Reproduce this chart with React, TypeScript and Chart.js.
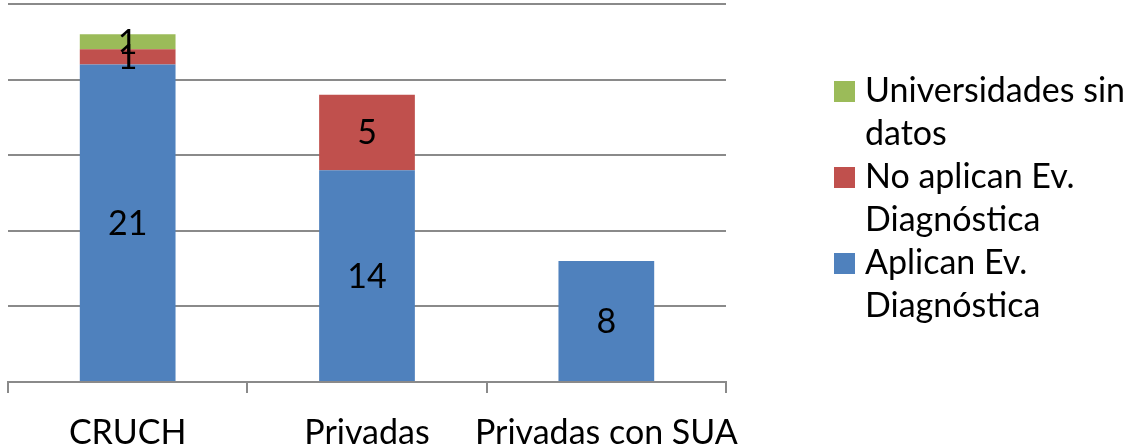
import React, { useEffect, useRef } from "react";
import { Chart, registerables } from "chart.js";

Chart.register(...registerables);

const categories = ["CRUCH", "Privadas", "Privadas con SUA"];
const aplican = [21, 14, 8];
const noAplican = [1, 5, 0];
const sinDatos = [1, 0, 0];
const seriesNames = ["Aplican Ev. Diagnóstica", "No aplican Ev. Diagnóstica", "Universidades sin datos"];
const legendLines = [
  ["Aplican Ev.", "Diagnóstica"],
  ["No aplican Ev.", "Diagnóstica"],
  ["Universidades sin", "datos"],
];
const seriesColors = ["#4F81BD", "#C0504D", "#9BBB59"];
const yMin = 0;
const yMax = 25;
const yStep = 5;

const FONT = "Lato, 'Open Sans', sans-serif";
const FS = 34;
const GRID = "#8a8a8a";

const valueLabels = {
  id: "valueLabels",
  afterDatasetsDraw(chart: any) {
    const ctx = chart.ctx;
    ctx.save();
    ctx.font = `${FS}px ${FONT}`;
    ctx.fillStyle = "#000";
    ctx.textAlign = "center";
    ctx.textBaseline = "middle";
    chart.data.datasets.forEach((ds: any, i: number) => {
      const meta = chart.getDatasetMeta(i);
      meta.data.forEach((el: any, j: number) => {
        const v = ds.data[j];
        if (!v) return;
        const p = el.getProps(["x", "y", "base"], true);
        ctx.fillText(String(v), p.x, (p.y + p.base) / 2 + 1);
      });
    });
    ctx.restore();
  },
};

const sideLegend = {
  id: "sideLegend",
  afterDraw(chart: any) {
    const ctx = chart.ctx;
    const ds = chart.data.datasets;
    ctx.save();
    ctx.font = `${FS}px ${FONT}`;
    ctx.textAlign = "left";
    ctx.textBaseline = "alphabetic";
    const lineH = 43;
    let y = 102;
    for (let k = ds.length - 1; k >= 0; k--) {
      ctx.fillStyle = ds[k].backgroundColor;
      ctx.fillRect(834, y - 21, 21, 21);
      ctx.fillStyle = "#000";
      const lines = legendLines[k];
      lines.forEach((ln, li) => ctx.fillText(ln, 865, y + li * lineH));
      y += lines.length * lineH;
    }
    ctx.restore();
  },
};

export default function App() {
  const ref = useRef<HTMLCanvasElement | null>(null);
  useEffect(() => {
    if (!ref.current) return;
    const chart = new Chart(ref.current, {
      type: "bar",
      data: {
        labels: categories,
        datasets: [
          { label: seriesNames[0], data: aplican, backgroundColor: seriesColors[0] },
          { label: seriesNames[1], data: noAplican, backgroundColor: seriesColors[1] },
          { label: seriesNames[2], data: sinDatos, backgroundColor: seriesColors[2] },
        ],
      },
      options: {
        responsive: false,
        animation: false,
        maintainAspectRatio: false,
        layout: { padding: { left: 8, right: 406, top: 4, bottom: 0 } },
        datasets: { bar: { categoryPercentage: 1, barPercentage: 0.4 } },
        plugins: { legend: { display: false }, tooltip: { enabled: false } },
        scales: {
          x: {
            stacked: true,
            grid: { offset: true, drawOnChartArea: false, drawTicks: true, tickLength: 11, color: GRID, lineWidth: 2 },
            border: { display: true, color: GRID, width: 2 },
            ticks: { color: "#000", font: { size: FS, family: FONT }, padding: 20, maxRotation: 0, autoSkip: false },
            afterFit(scale: any) {
              scale.height = 62;
            },
          },
          y: {
            stacked: true,
            min: yMin,
            max: yMax,
            ticks: { display: false, stepSize: yStep },
            grid: { color: GRID, lineWidth: 2, drawTicks: false },
            border: { display: false },
          },
        },
      },
      plugins: [valueLabels, sideLegend],
    } as any);
    return () => chart.destroy();
  }, []);
  return (
    <div style={{ position: "absolute", left: 0, top: 0, width: 1132, height: 444, background: "#fff" }}>
      <canvas ref={ref} width={1132} height={444} />
    </div>
  );
}
